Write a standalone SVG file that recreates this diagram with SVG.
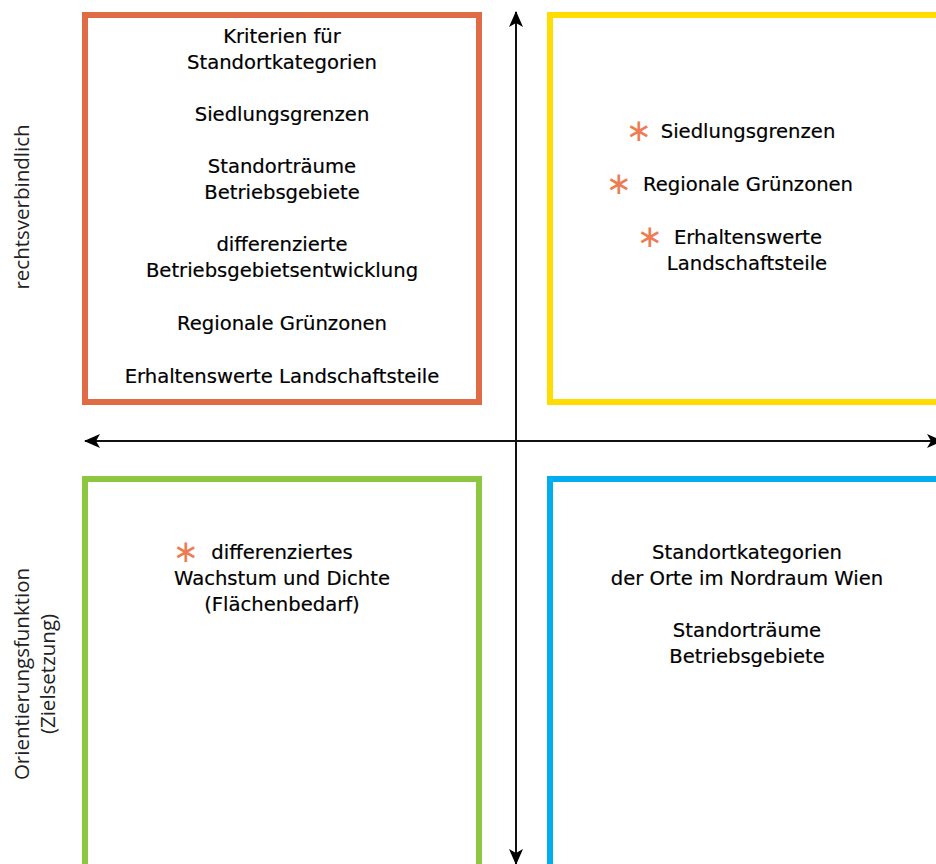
<svg xmlns="http://www.w3.org/2000/svg" width="936" height="864" viewBox="0 0 936 864">
<style>
.box{fill:none;stroke-width:6}
.t{font-family:"DejaVu Sans",Verdana,sans-serif;font-size:19.6px;fill:#000;stroke:#000;stroke-width:0.2;text-anchor:middle}
.ast{font-family:"DejaVu Sans",sans-serif;font-size:31px;fill:#EE7C52;text-anchor:middle}
.side{font-family:"Open Sans","Liberation Sans",sans-serif;font-size:20.5px;fill:#222;text-anchor:middle}
.axis{stroke:#111;stroke-width:2;fill:none}
</style>
<defs>
<marker id="ah" viewBox="0 0 16 14" refX="15" refY="7" markerWidth="16" markerHeight="14" markerUnits="userSpaceOnUse" orient="auto">
<path d="M0,0 L16,7 L0,14 L4,7 Z" fill="#000"/>
</marker>
</defs>
<g id="box-tl">
<rect class="box" x="85" y="15" width="394" height="387" stroke="#E06C45"/>
<text class="t" x="282" y="43">Kriterien für</text>
<text class="t" x="282" y="69">Standortkategorien</text>
<text class="t" x="282" y="121">Siedlungsgrenzen</text>
<text class="t" x="282" y="173">Standorträume</text>
<text class="t" x="282" y="199">Betriebsgebiete</text>
<text class="t" x="282" y="251">differenzierte</text>
<text class="t" x="282" y="277">Betriebsgebietsentwicklung</text>
<text class="t" x="282" y="330">Regionale Grünzonen</text>
<text class="t" x="282" y="383">Erhaltenswerte Landschaftsteile</text>
</g>
<g id="box-tr">
<rect class="box" x="550" y="15" width="400" height="387" stroke="#FFDD00"/>
<text class="ast" x="639" y="141">∗</text>
<text class="t" x="748" y="138">Siedlungsgrenzen</text>
<text class="ast" x="619" y="194">∗</text>
<text class="t" x="748" y="191">Regionale Grünzonen</text>
<text class="ast" x="650" y="247">∗</text>
<text class="t" x="748" y="244">Erhaltenswerte</text>
<text class="t" x="747" y="270">Landschaftsteile</text>
</g>
<g id="box-bl">
<rect class="box" x="85" y="479" width="394" height="400" stroke="#8DC63F"/>
<text class="ast" x="186" y="562">∗</text>
<text class="t" x="282" y="559">differenziertes</text>
<text class="t" x="282" y="585">Wachstum und Dichte</text>
<text class="t" x="282" y="611">(Flächenbedarf)</text>
</g>
<g id="box-br">
<rect class="box" x="550" y="479" width="400" height="400" stroke="#00AEEF"/>
<text class="t" x="747" y="559">Standortkategorien</text>
<text class="t" x="747" y="585">der Orte im Nordraum Wien</text>
<text class="t" x="747" y="637">Standorträume</text>
<text class="t" x="747" y="663">Betriebsgebiete</text>
</g>
<g id="labels">
<text class="side" transform="translate(29,207) rotate(-90)">rechtsverbindlich</text>
<text class="side" transform="translate(29,674) rotate(-90)">Orientierungsfunktion</text>
<text class="side" transform="translate(55,674) rotate(-90)">(Zielsetzung)</text>
</g>
<g id="connectors">
<line class="axis" x1="516" y1="440" x2="516" y2="12" marker-end="url(#ah)"/>
<line class="axis" x1="516" y1="440" x2="516" y2="864" marker-end="url(#ah)"/>
<line class="axis" x1="516" y1="441" x2="85" y2="441" marker-end="url(#ah)" stroke-width="2.5"/>
<line class="axis" x1="516" y1="441" x2="942" y2="441" marker-end="url(#ah)" stroke-width="2.5"/>
</g>
</svg>
